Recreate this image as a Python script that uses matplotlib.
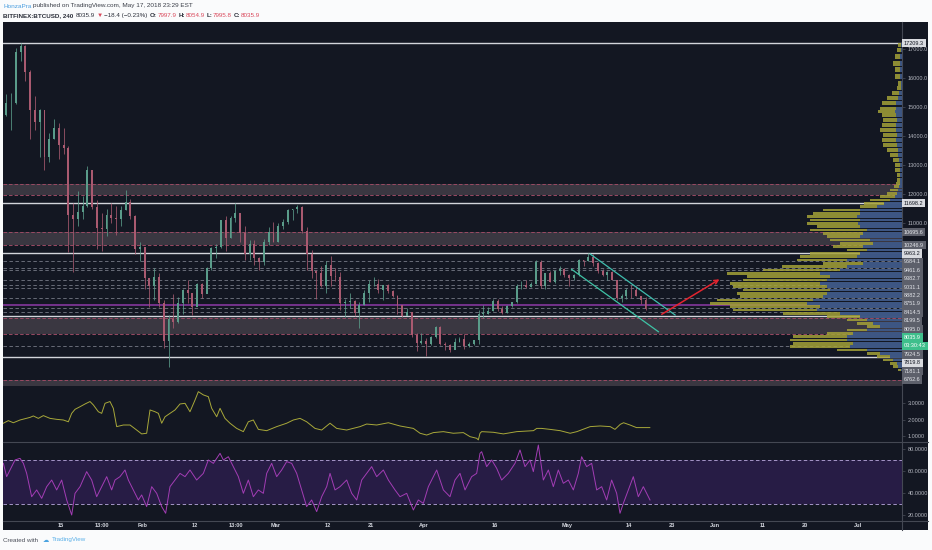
import numpy as np
import matplotlib.pyplot as plt
from matplotlib.patches import Rectangle
from matplotlib.lines import Line2D

plt.rcParams['font.family'] = ['Liberation Sans', 'DejaVu Sans']
plt.rcParams['lines.scale_dashes'] = False

W, H = 932, 550

# ---- BTCUSD daily bars, x = days since 2018-01-01 (first bar = Jan 2) ----
first_open = 13600
close_jan = [14750, 15150, 15150, 16900, 17100, 16200, 14900, 14500, 14900, 13300,
             13900, 14300, 13700, 13600, 11300, 11150, 11400, 11600, 12850, 11550,
             10850, 10800, 11300, 11200, 11150, 11450, 11750, 11250, 10100, 10200]
high_jan = [15400, 15450, 15500, 17050, 17209.3, 17150, 16300, 15400, 14950, 14850,
            14100, 14600, 14450, 14300, 13650, 11700, 12100, 11950, 12960, 12850,
            11800, 11350, 11500, 11700, 11600, 11600, 12150, 11850, 11300, 10350]
low_jan = [13200, 14700, 14200, 15100, 16600, 15900, 13900, 14200, 13300, 12850,
           13100, 13900, 13200, 13400, 10000, 9330, 10900, 11150, 11550, 11500,
           10100, 10050, 10550, 11000, 10600, 10900, 11450, 11150, 9950, 9700]

close_feb = [9100, 8850, 9150, 8250, 6950, 7700, 7600, 8250, 8700, 8600, 8100, 8900,
             8550, 9450, 10150, 10200, 11100, 10500, 11200, 11350, 10650, 9950, 10280,
             9800, 9650, 10350, 10700, 10350]
high_feb = [10200, 9100, 9450, 9300, 8350, 7850, 8550, 8470, 8720, 9050, 8550, 8950,
            8950, 9500, 10200, 10300, 11120, 11250, 11240, 11698, 11280, 10900, 10420,
            10430, 9850, 10450, 10880, 11050]
low_feb = [8750, 8100, 8350, 8100, 6700, 6040, 7400, 7550, 7880, 8250, 7850, 8150,
           8420, 8580, 9400, 9800, 10150, 10050, 10500, 11050, 10350, 9730, 9750,
           9550, 9390, 9550, 10250, 10350]

close_mar = [10920, 11050, 11450, 11480, 11550, 10750, 9950, 9350, 9300, 8850, 9550,
             9200, 9150, 8250, 8280, 8330, 7900, 8200, 8600, 8900, 8910, 8710, 8860,
             8650, 8480, 8190, 7820, 7940, 7150, 6870, 6950]
high_mar = [11000, 11150, 11500, 11500, 11640, 11580, 10880, 10080, 9400, 9520, 9700,
            9880, 9460, 9330, 8400, 8580, 8340, 8270, 8700, 9040, 9150, 9080, 8880,
            8900, 8700, 8520, 8200, 8080, 7950, 7210, 7210]
low_mar = [10350, 10820, 10980, 11100, 11350, 10650, 9400, 9100, 8400, 8800, 8600,
           8850, 9000, 8000, 7760, 8080, 7800, 7380, 8170, 8300, 8830, 8600, 8370,
           8610, 8460, 7870, 7780, 7840, 7070, 6600, 6830]

close_apr = [6830, 7070, 7440, 6840, 6800, 6620, 6900, 7010, 6760, 6830, 6960, 7880,
             7880, 7970, 8320, 8050, 7890, 8150, 8280, 8830, 8880, 8790, 8920, 9680,
             8830, 9270, 8970, 9340, 9410, 9230]
high_apr = [7040, 7100, 7470, 7450, 6900, 6850, 7060, 7090, 7170, 6890, 6980, 8010,
            8180, 8100, 8380, 8390, 8160, 8200, 8290, 8920, 9020, 9030, 8990, 9734,
            9730, 9300, 9370, 9400, 9520, 9450]
low_apr = [6430, 6800, 7040, 6800, 6640, 6570, 6650, 6900, 6650, 6720, 6810, 6850,
           7750, 7860, 7990, 7960, 7860, 7910, 8120, 8260, 8740, 8760, 8810, 8910,
           8770, 8740, 8970, 8950, 9230, 9150]

close_may = [9110, 9230, 9730, 9690, 9850, 9640, 9360, 9220, 9310, 9030, 8430, 8490,
             8710, 8700, 8500, 8360, 8035.9]
high_may = [9240, 9250, 9770, 9720, 9963, 9930, 9650, 9440, 9360, 9370, 9030, 8550,
            8780, 8870, 8830, 8500, 8450]
low_may = [8830, 9040, 9180, 9540, 9700, 9530, 9300, 9190, 9030, 9030, 8370, 8290,
           8400, 8430, 8500, 8210, 8000]

# ---- horizontal levels ----
white_levels = [17209.3, 11698.2, 9963.2, 7819.8, 6380]
dash_levels = [9684.1, 9461.6, 9382.7, 9031.1, 8882.2, 8751.9, 8414.5, 8095.0, 7924.5, 6762.6]
poc_level = 8199.5
zones = [(11960, 12350), (10246.9, 10695.6), (7181.1, 7745), (5390, 5600)]
label_prices = [17209.3, 11698.2, 10695.6, 10246.9, 9963.2, 9684.1, 9461.6, 9382.7,
                9031.1, 8882.2, 8751.9, 8414.5, 8199.5, 8095.0, 8035.9, 7924.5,
                7819.8, 7181.1, 6762.6]
last_price = 8035.9
countdown = '03:30:43'

# drawings (day, price)
channel_upper = ([124.9, 142.7], [9941, 7838])
channel_lower = ([121.0, 139.2], [9414, 7262])
arrow_from = (139.9, 7862)
arrow_to = (152.0, 9069)

# ---- volume profile (price row, total, up part) ----
vp_price = [17148, 16976, 16746, 16516, 16286, 16056, 15826, 15654, 15482, 15309,
            15137, 14964, 14849, 14734, 14562, 14390, 14217, 14045, 13872, 13700,
            13527, 13355, 13183, 13010, 12838, 12665, 12493, 12379, 12264, 12149,
            12034, 11919, 11804, 11689, 11574, 11459, 11344, 11229, 11115, 11000,
            10885, 10770, 10655, 10540, 10425, 10310, 10195, 10080, 9966, 9851,
            9736, 9621, 9506, 9391, 9276, 9161, 9046, 8931, 8817, 8702,
            8587, 8472, 8357, 8242, 8127, 8012, 7897, 7782, 7668, 7553,
            7438, 7323, 7208, 7093, 6978, 6863, 6748, 6633, 6518, 6403,
            6289, 6174, 6059, 5944]
vp_total = [4, 5, 7, 9, 7, 7, 4, 5, 10, 15,
            20, 22, 24, 20, 19, 20, 22, 19, 20, 19,
            15, 12, 9, 7, 7, 5, 5, 6, 8, 12,
            15, 22, 32, 38, 42, 79, 89, 95, 92, 95,
            85, 92, 79, 75, 72, 62, 69, 55, 92, 102,
            105, 79, 120, 139, 175, 155, 159, 172, 169, 159,
            165, 162, 185, 192, 172, 169, 119, 75, 55, 45,
            35, 55, 75, 109, 112, 109, 112, 65, 35, 25,
            19, 12, 9, 4]
vp_up = [1, 1.5, 2, 2.5, 2, 2, 1, 1.5, 3, 4.5,
         6, 6.5, 7, 6, 5.5, 6, 6.5, 5.5, 6, 5.5,
         4.5, 4, 3, 2.5, 2.5, 2, 2, 2, 3, 4,
         5, 7, 12, 18, 25, 42, 42, 45, 42, 44,
         42, 35, 39, 42, 32, 29, 39, 35, 42, 45,
         55, 39, 55, 62, 82, 72, 75, 82, 75, 72,
         75, 79, 89, 95, 82, 85, 62, 42, 35, 29,
         22, 35, 49, 55, 55, 49, 52, 35, 22, 12,
         9, 5, 4, 1]

# ---- indicator 1 (olive line) ----
ind_day = [1.87, 2.92, 3.97, 5.37, 7.46, 8.16, 9.21, 10.26, 11.66, 13.05, 14.45, 15.5,
           16.2, 16.9, 17.95, 19.0, 20.04, 20.74, 21.79, 22.49, 23.19, 24.23, 24.93,
           25.63, 27.03, 28.43, 29.82, 30.87, 31.92, 32.62, 33.67, 34.37, 35.07, 35.77,
           36.81, 37.86, 38.91, 39.96, 41.0, 42.05, 42.75, 43.8, 44.85, 45.55, 46.6,
           47.3, 48.34, 49.39, 50.79, 52.19, 53.23, 54.28, 55.33, 57.08, 59.18, 61.27,
           62.67, 64.07, 65.46, 67.21, 68.61, 70.36, 71.75, 73.85, 76.65, 78.04, 80.14,
           82.59, 85.03, 87.83, 89.23, 90.62, 92.02, 94.12, 96.21, 98.31, 99.71, 101.1,
           101.45, 101.8, 102.15, 104.6, 106.7, 109.5, 113.0, 113.7, 114.7, 116.5,
           118.6, 120.7, 122.1, 124.9, 127.0, 129.1, 130.1, 131.2, 131.9, 133.25,
           134.6, 137.4]
ind_val = [1.77, 1.93, 1.80, 1.97, 2.13, 2.22, 2.07, 2.24, 2.07, 2.01, 1.97, 1.86,
           2.38, 2.63, 2.79, 2.96, 3.11, 2.90, 2.48, 2.38, 3.00, 3.11, 2.69,
           1.56, 1.66, 1.66, 1.35, 1.11, 1.15, 2.59, 2.48, 2.38, 1.77, 2.17,
           2.38, 2.59, 2.96, 3.00, 2.48, 3.20, 3.72, 3.52, 3.41, 2.69, 2.17,
           2.69, 2.07, 1.77, 1.45, 1.25, 1.86, 1.97, 1.39, 1.31, 1.56, 1.77,
           1.97, 2.07, 1.86, 1.45, 1.35, 1.77, 1.45, 1.35, 1.56, 1.72, 1.66,
           1.80, 1.60, 1.45, 1.15, 1.04, 1.19, 1.25, 1.15, 1.19, 0.94, 0.84,
           0.74, 1.15, 1.25, 1.21, 1.11, 1.25, 1.31, 1.45, 1.45, 1.39,
           1.31, 1.15, 1.25, 1.56, 1.60, 1.56, 1.39, 1.70, 1.80, 1.66,
           1.50, 1.50]

# ---- RSI ----
rsi_day = [1.87, 2.57, 3.27, 4.32, 5.37, 6.07, 6.76, 7.81, 8.86, 9.91, 10.96, 12.01,
           13.05, 14.1, 15.15, 16.2, 16.9, 17.95, 19.34, 20.39, 21.44, 22.49, 23.54,
           24.58, 25.28, 26.33, 27.38, 28.08, 29.13, 30.17, 30.87, 31.92, 32.97, 34.02,
           35.07, 35.9, 36.81, 37.86, 38.91, 39.96, 41.0, 42.4, 43.8, 44.85, 45.9,
           47.3, 48.0, 49.04, 50.09, 51.14, 52.19, 53.23, 54.28, 55.33, 56.38, 57.08,
           58.13, 59.18, 60.22, 61.27, 62.32, 63.37, 64.42, 65.46, 66.51, 67.56, 68.61,
           69.66, 70.36, 71.4, 72.45, 73.85, 74.9, 75.95, 77.0, 78.04, 79.09, 80.14,
           81.54, 82.59, 83.98, 85.03, 86.43, 87.83, 88.87, 89.92, 90.97, 92.02, 92.72,
           94.12, 95.51, 96.56, 97.61, 98.66, 100.05, 101.1, 101.8, 102.15, 103.2,
           104.25, 105.3, 106.34, 107.74, 109.14, 110.19, 111.23, 112.28, 112.98,
           114.03, 115.08, 116.13, 117.17, 118.22, 119.27, 120.32, 121.37, 122.41,
           123.11, 124.16, 125.21, 126.26, 127.31, 128.35, 129.4, 130.45, 131.15,
           131.85, 132.9, 133.94, 134.99, 136.04, 137.44]
rsi_val = [67.1, 54.9, 61.0, 70.2, 71.7, 67.1, 57.9, 36.5, 42.7, 35.0, 45.7, 51.8,
           42.7, 51.8, 33.5, 19.7, 39.6, 45.7, 59.5, 51.8, 36.5, 45.7, 54.9,
           42.7, 51.8, 54.9, 61.0, 51.8, 42.7, 33.5, 38.1, 27.4, 45.7, 39.6,
           27.4, 21.3, 45.7, 51.8, 57.9, 54.9, 61.0, 51.8, 57.9, 70.2, 67.1,
           76.3, 70.2, 73.2, 64.1, 54.9, 39.6, 51.8, 36.5, 42.7, 39.6, 57.9,
           67.1, 54.9, 61.0, 68.7, 67.1, 57.9, 42.7, 27.4, 33.5, 22.8, 36.5,
           45.7, 57.9, 42.7, 45.7, 51.8, 39.6, 33.5, 51.8, 57.9, 64.1, 54.9,
           61.0, 51.8, 42.7, 36.5, 39.6, 24.3, 33.5, 30.4, 45.7, 54.9, 61.0,
           42.7, 36.5, 51.8, 57.9, 42.7, 54.9, 57.9, 76.3, 77.8, 64.1,
           70.2, 62.5, 51.8, 57.9, 67.1, 79.4, 64.1, 70.2, 59.5,
           83.9, 51.8, 61.0, 45.7, 61.0, 48.8, 51.8, 42.7, 57.9,
           73.2, 64.1, 67.1, 42.7, 45.7, 33.5, 51.8, 39.6, 21.3,
           30.4, 42.7, 54.9, 36.5, 45.7, 33.5]

# ---- time axis ----
tick_days = [14, 22 + 13 / 24, 31, 42, 50 + 13 / 24, 59, 70, 79, 90, 105, 120, 133, 142,
             151, 161, 170, 181]
tick_text = ['15', '13:00', 'Feb', '12', '13:00', 'Mar', '12', '21', 'Apr', '16', 'May',
             '14', '23', 'Jun', '11', '20', 'Jul']
x_range = (1.8, 190.27)

BG = '#131722'
TXT = '#b2b5be'
up_c, dn_c = '#5a9c8a', '#a95a70'


def fx(px):
    return px / W


def fy(py):
    return 1 - py / H


fig = plt.figure(figsize=(W / 100, H / 100), dpi=100, facecolor='#fafbfc')
fig.patches.append(Rectangle((fx(3), fy(530)), fx(928) - fx(3), fy(22) - fy(530),
                             transform=fig.transFigure, facecolor=BG, edgecolor='none', zorder=-5))

L, R = fx(3), fx(902)
ax = fig.add_axes([L, fy(386), R - L, fy(22) - fy(386)])
ax1 = fig.add_axes([L, fy(442), R - L, fy(386) - fy(442)], sharex=ax)
ax2 = fig.add_axes([L, fy(521), R - L, fy(442) - fy(521)], sharex=ax)

for a in (ax, ax1, ax2):
    a.set_facecolor(BG)
    for s in a.spines.values():
        s.set_visible(False)
    a.yaxis.tick_right()
    a.tick_params(axis='y', colors='#4a4e59', labelcolor=TXT, labelsize=4.0, length=2, width=0.5, pad=2)
    a.tick_params(axis='x', length=0)

# ---- price panel ----
close = np.concatenate([close_jan, close_feb, close_mar, close_apr, close_may])
high = np.concatenate([high_jan, high_feb, high_mar, high_apr, high_may])
low = np.concatenate([low_jan, low_feb, low_mar, low_apr, low_may])
opens = np.r_[first_open, close[:-1]]
days = np.arange(1, len(close) + 1) + 0.5
up = close >= opens
cols = np.where(up, up_c, dn_c)

for lo, hi in zones:
    ax.axhspan(lo, hi, color='#3a3741', lw=0, zorder=1)
    ax.axhline(lo, color='#9a4a64', lw=0.7, ls=(0, (2.5, 1.5)), zorder=2)
    ax.axhline(hi, color='#9a4a64', lw=0.7, ls=(0, (2.5, 1.5)), zorder=2)
for p in dash_levels:
    ax.axhline(p, color='#767a86', lw=0.6, ls=(0, (2.5, 1.8)), zorder=2)
for p in white_levels:
    ax.axhline(p, color='#d3d5db', lw=1.0, zorder=2)
ax.axhline(poc_level, color='#8e3aa8', lw=1.1, zorder=2)

ax.vlines(days, low, high, colors=cols, lw=0.55, zorder=3)
body = np.abs(close - opens)
body = np.maximum(body, 15)
ax.bar(days, body, bottom=np.minimum(opens, close), width=0.4, color=cols, lw=0, zorder=3)

ax.plot(*channel_upper, color='#3fbdae', lw=0.9, zorder=4)
ax.plot(*channel_lower, color='#3fc3a6', lw=0.9, zorder=4)
ax.annotate('', xy=arrow_to, xytext=arrow_from,
            arrowprops=dict(arrowstyle='->', color='#e3242f', lw=1.1, shrinkA=0, shrinkB=0,
                            mutation_scale=7), zorder=4)

ax.set_xlim(*x_range)
ax.set_ylim(5390, 17941)
ax.set_yticks(range(11000, 18000, 1000))
ax.set_yticklabels([f'{v:.1f}' for v in range(11000, 18000, 1000)])
ax.tick_params(axis='x', labelbottom=False)

# volume profile over the price panel (1 unit = 1 px)
ax_vp = fig.add_axes(ax.get_position())
ax_vp.set_xlim(899, 0)
ax_vp.set_ylim(ax.get_ylim())
ax_vp.axis('off')
ax_vp.patch.set_visible(False)
vh = np.abs(np.gradient(np.array(vp_price, float))) * 0.75
ax_vp.barh(vp_price, vp_total, height=vh, color='#a4a138', alpha=0.85, lw=0)
ax_vp.barh(vp_price, vp_up, height=vh, color='#34508c', alpha=0.9, lw=0)

# ---- indicator 1 ----
ax1.plot(ind_day, ind_val, color='#a8a83a', lw=0.7)
ax1.set_ylim(0.61, 4.07)
ax1.set_yticks([1, 2, 3])
ax1.set_yticklabels(['1.0000', '2.0000', '3.0000'])
ax1.tick_params(axis='x', labelbottom=False)

# ---- RSI ----
ax2.axhspan(30, 70, color='#271c45', lw=0)
ax2.axhline(70, color='#a595c8', lw=0.7, ls=(0, (2.5, 1.8)))
ax2.axhline(30, color='#a595c8', lw=0.7, ls=(0, (2.5, 1.8)))
ax2.plot(rsi_day, rsi_val, color='#a33db5', lw=0.7)
ax2.set_ylim(14.2, 86.7)
ax2.set_yticks([20, 40, 60, 80])
ax2.set_yticklabels(['20.0000', '40.0000', '60.0000', '80.0000'])
ax2.set_xticks(tick_days)
ax2.set_xticklabels(tick_text)
ax2.tick_params(axis='x', labelsize=4.1, labelcolor='#d1d4dc', pad=1.5)
for t in ax2.get_xticklabels():
    t.set_fontweight('bold')

# separators
for (x0, y0, x1, y1) in [(3, 442, 928, 442), (3, 521, 928, 521), (902, 22, 902, 530)]:
    fig.lines.append(Line2D([fx(x0), fx(x1)], [fy(y0), fy(y1)], transform=fig.transFigure,
                            color='#444853', lw=0.8))

# ---- price labels on the right scale (stacked like TradingView) ----
prev = 1e9
for p in label_prices:
    ypx = min(ax.transData.transform((0, p))[1], prev - 8.4)
    prev = ypx
    if p == last_price:
        fc, tc = '#3fbf8c', 'white'
    elif p in white_levels:
        fc, tc = '#d9dbe0', '#131722'
    else:
        fc, tc = '#5d606b', '#e3e5ea'
    fig.text(fx(904), ypx / H, f'{p:.1f}', fontsize=4.0, color=tc, ha='left', va='center',
             bbox=dict(boxstyle='square,pad=0.3', fc=fc, ec='none'))
    if p == last_price:
        prev = prev - 8.4
        fig.text(fx(904), prev / H, countdown, fontsize=4.0, color='white', ha='left', va='center',
                 bbox=dict(boxstyle='square,pad=0.3', fc='#3fbf8c', ec='none'))

# ---- header / footer ----
rend = fig.canvas.get_renderer()


def chain(pieces, x0, y, size):
    x = x0
    for s, c, bold, gap in pieces:
        t = fig.text(fx(x), fy(y), s, color=c, fontsize=size,
                     fontweight='bold' if bold else 'normal', ha='left', va='center')
        x = t.get_window_extent(rend).x1 + gap


dark, red = '#2a2e39', '#d9475a'
chain([('HonzaPra', '#4a9ee0', False, 1.5),
       ('published on TradingView.com, May 17, 2018 23:29 EST', '#3a3e48', False, 0)], 3, 6, 4.55)
chain([('BITFINEX:BTCUSD, 240', dark, True, 2), ('8035.9', dark, False, 2),
       ('▼', red, False, 2), ('−18.4 (−0.23%)', dark, False, 2),
       ('O:', dark, True, 0.5), ('7997.9', red, False, 2),
       ('H:', dark, True, 0.5), ('8054.9', red, False, 2),
       ('L:', dark, True, 0.5), ('7995.8', red, False, 2),
       ('C:', dark, True, 0.5), ('8035.9', red, False, 0)], 3, 15.5, 4.5)
chain([('Created with', '#4a4e58', False, 5), ('☁', '#4aa3e0', False, 3),
       ('TradingView', '#5ab0e8', False, 0)], 3, 540, 4.5)

fig.savefig('out.png', dpi=100, facecolor=fig.get_facecolor())
